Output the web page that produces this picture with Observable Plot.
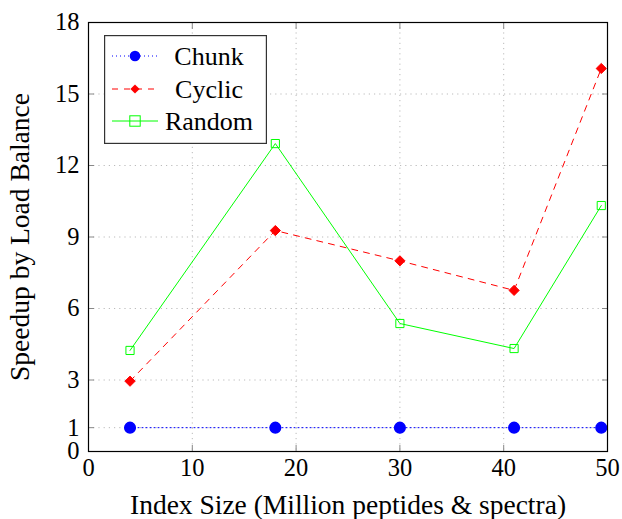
<!DOCTYPE html>
<html>
<head>
<meta charset="utf-8">
<script src="https://cdn.jsdelivr.net/npm/d3@7"></script>
<script src="https://cdn.jsdelivr.net/npm/@observablehq/plot@0.6"></script>
<style>
  html, body { margin: 0; padding: 0; background: #fff; }
  #wrap { position: relative; width: 622px; height: 519px; font-family: "Liberation Serif", "DejaVu Serif", serif; }
  #legend { position: absolute; left: 104px; top: 35px; }
</style>
</head>
<body>
<div id="wrap"></div>
<script>
const xs = [4, 18, 30, 41, 49.4];
const chunk = [1, 1, 1, 1, 1];
const cyclic = [2.95, 9.27, 8.0, 6.76, 16.07];
const random = [4.24, 12.92, 5.37, 4.32, 10.32];
const seriesNames = ["Chunk", "Cyclic", "Random"];
const xTicks = [0, 10, 20, 30, 40, 50];
const yTicks = [0, 1, 3, 6, 9, 12, 15, 18];

const rows = (vals) => xs.map((x, i) => ({x, y: vals[i]}));
const dChunk = rows(chunk), dCyclic = rows(cyclic), dRandom = rows(random);

const font = "Liberation Serif";
const chart = Plot.plot({
  width: 622,
  height: 519,
  marginLeft: 88,
  marginRight: 15,
  marginTop: 22,
  marginBottom: 68,
  style: {fontFamily: font, fontSize: "24px", background: "white", overflow: "visible"},
  x: {domain: [0, 50]},
  y: {domain: [0, 18]},
  marks: [
    Plot.gridX(xTicks, {stroke: "#bbb", strokeOpacity: 1, strokeDasharray: "1.2,4"}),
    Plot.gridY(yTicks, {stroke: "#bbb", strokeOpacity: 1, strokeDasharray: "1.2,4"}),
    Plot.axisX(xTicks, {anchor: "bottom", tickSize: -6, stroke: "#888", tickFormat: () => "", label: null}),
    Plot.axisX(xTicks, {anchor: "top", tickSize: -6, stroke: "#888", tickFormat: () => "", label: null}),
    Plot.axisY(yTicks, {anchor: "left", tickSize: -6, stroke: "#888", tickFormat: () => "", label: null}),
    Plot.axisY(yTicks, {anchor: "right", tickSize: -6, stroke: "#888", tickFormat: () => "", label: null}),
    Plot.axisX(xTicks, {anchor: "bottom", tickSize: 0, tickPadding: 7, fill: "black",
      label: "Index Size (Million peptides & spectra)", labelAnchor: "center", labelArrow: "none", labelOffset: 62}),
    Plot.axisY(yTicks, {anchor: "left", tickSize: 0, tickPadding: 9, fill: "black",
      label: "Speedup by Load Balance", labelAnchor: "center", labelArrow: "none", labelOffset: 79}),
    Plot.line(dChunk, {x: "x", y: "y", stroke: "#0000ff", strokeWidth: 1, strokeDasharray: "1,3"}),
    Plot.dot(dChunk, {x: "x", y: "y", r: 5.3, fill: "#0000ff", stroke: "#0000ff"}),
    Plot.line(dCyclic, {x: "x", y: "y", stroke: "#ff0000", strokeWidth: 1, strokeDasharray: "6,6"}),
    Plot.dot(dCyclic, {x: "x", y: "y", r: 4.6, symbol: "diamond2", fill: "#ff0000", stroke: "#ff0000", strokeWidth: 1}),
    Plot.line(dRandom, {x: "x", y: "y", stroke: "#00ff00", strokeWidth: 1}),
    Plot.dot(dRandom, {x: "x", y: "y", r: 5.2, symbol: "square2", fill: "none", stroke: "#00ff00", strokeWidth: 1}),
    Plot.frame({stroke: "black", strokeWidth: 1.2})
  ]
});
const svg = d3.select(chart);
svg.selectAll("text").style("font-size", "24.5px");
const wrap = document.getElementById("wrap");
wrap.appendChild(chart);
svg.selectAll("text").filter(function() {
  const t = this.textContent;
  return t === "Index Size (Million peptides & spectra)" || t === "Speedup by Load Balance";
}).style("font-size", "27.5px");

// Legend overlay
const lw = 163, lh = 109;
const legend = d3.select(wrap).append("div").attr("id", "legend")
  .append("svg").attr("width", lw).attr("height", lh)
  .style("font-family", font).style("display", "block");
legend.append("rect").attr("x", 0.6).attr("y", 0.6).attr("width", lw - 1.2).attr("height", lh - 1.2)
  .attr("fill", "white").attr("stroke", "#333").attr("stroke-width", 1.2);
const styles = [
  {color: "#0000ff", dash: "1,3", sym: "circle"},
  {color: "#ff0000", dash: "6,6", sym: "diamond"},
  {color: "#00ff00", dash: null, sym: "square"}
];
const rowY = [21, 54, 86];
seriesNames.forEach((name, i) => {
  const g = legend.append("g").attr("transform", `translate(0,${rowY[i]})`);
  const s = styles[i];
  const ln = g.append("line").attr("x1", 8).attr("x2", 54).attr("y1", 0).attr("y2", 0)
    .attr("stroke", s.color).attr("stroke-width", 1);
  if (s.dash) ln.attr("stroke-dasharray", s.dash);
  if (s.sym === "circle") g.append("circle").attr("cx", 31).attr("cy", 0).attr("r", 5.3).attr("fill", s.color);
  if (s.sym === "diamond") g.append("path").attr("d", "M31,-4.6L35.6,0L31,4.6L26.4,0Z").attr("fill", s.color);
  if (s.sym === "square") g.append("rect").attr("x", 25.8).attr("y", -5.2).attr("width", 10.4).attr("height", 10.4)
    .attr("fill", "none").attr("stroke", s.color);
  g.append("text").attr("x", 105).attr("y", 0).attr("dy", "0.35em").attr("text-anchor", "middle")
    .style("font-size", "26px").text(name);
});
</script>
</body>
</html>
